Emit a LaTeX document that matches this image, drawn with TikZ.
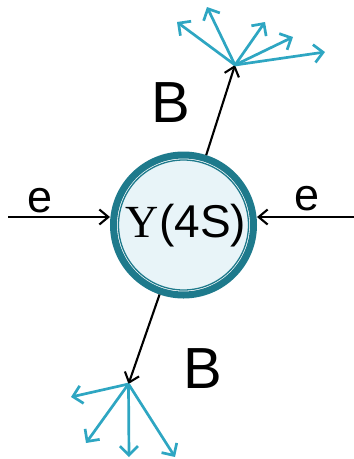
\documentclass[tikz,border=0pt]{standalone}
\usepackage{fontspec}
\setmainfont{Liberation Sans}
\newfontfamily\serifY{Liberation Serif}
\usetikzlibrary{arrows.meta}
\definecolor{ringc}{HTML}{1E7A8C}
\definecolor{fillc}{HTML}{E8F4F8}
\definecolor{prodc}{HTML}{2EA6C2}
\begin{document}
\begin{tikzpicture}[x=1pt,y=-1pt,
  beam/.style={draw=black, line width=2.1pt, -{Straight Barb[length=9pt,width=15pt]}},
  prodarrow/.style={draw=prodc, line width=2.7pt, -{Straight Barb[length=9pt,width=18pt]}},
  lbl/.style={inner sep=0pt, font=\fontsize{45}{45}\selectfont},
  blbl/.style={inner sep=0pt, font=\fontsize{58}{58}\selectfont},
  resonance/.style={circle, draw=ringc, line width=7pt, fill=white, minimum size=140pt, inner sep=0pt}
]
\useasboundingbox (0,0) rectangle (354,459);
% central resonance
\node[resonance] (Y) at (183.5,225) {};
\draw[ringc, fill=fillc, line width=1.3pt] (Y.center) circle[radius=65pt];
\node[inner sep=0pt, font=\fontsize{46}{46}\selectfont] (Ytext) at (186,226) {{\serifY Υ}(4S)};
% beams
\coordinate (eL) at (8,217);
\coordinate (eR) at (354,217);
\draw[beam] (eL) -- (Y.west |- eL);
\draw[beam] (eR) -- (Y.east |- eR);
\node[lbl] (le) at (40,201) {e};
\node[lbl] (re) at (307,199) {e};
% B mesons
\coordinate (Bt) at (235,65);
\coordinate (Bb) at (128.5,384);
\draw[beam] (Y.72) -- (Bt);
\draw[beam] (Y.251) -- (Bb);
\node[blbl] (lBt) at (171,103) {B};
\node[blbl] (lBb) at (203,369) {B};
% decay products, top
\coordinate (t1) at (177,22);
\coordinate (t2) at (207,7);
\coordinate (t3) at (265,22);
\coordinate (t4) at (293,37);
\coordinate (t5) at (325,52);
\foreach \t in {t1,t2,t3,t4,t5} \draw[prodarrow] (Bt) -- (\t);
% decay products, bottom
\coordinate (b1) at (71,397);
\coordinate (b2) at (86,443);
\coordinate (b3) at (129,457);
\coordinate (b4) at (175,457);
\foreach \b in {b1,b2,b3,b4} \draw[prodarrow] (Bb) -- (\b);
\end{tikzpicture}
\end{document}
